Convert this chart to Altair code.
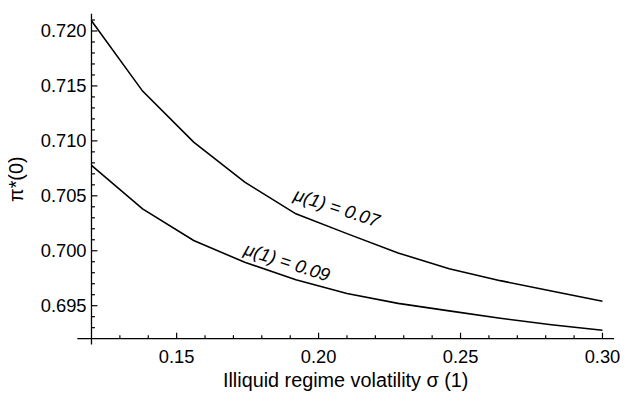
import altair as alt
import pandas as pd

# ---- data ----
sigma = [0.12, 0.138, 0.156, 0.174, 0.192, 0.21, 0.228, 0.246, 0.264, 0.282, 0.30]
pi_mu07 = [0.72093, 0.71453, 0.70989, 0.70624, 0.70336, 0.70156, 0.69980,
           0.69836, 0.69728, 0.69633, 0.69541]
pi_mu09 = [0.70777, 0.70381, 0.70093, 0.69895, 0.69737, 0.69611, 0.69521,
           0.69453, 0.69386, 0.69327, 0.69276]
series_names = ["μ(1) = 0.07", "μ(1) = 0.09"]
label_x = [0.2064, 0.1889]
label_y = [0.70390, 0.69895]

x_major = [0.15, 0.20, 0.25, 0.30]
x_tick_labels = ["0.15", "0.20", "0.25", "0.30"]
x_minor = [0.13, 0.14, 0.16, 0.17, 0.18, 0.19, 0.21, 0.22, 0.23, 0.24,
           0.26, 0.27, 0.28, 0.29]
y_major = [0.695, 0.700, 0.705, 0.710, 0.715, 0.720]
y_tick_labels = ["0.695", "0.700", "0.705", "0.710", "0.715", "0.720"]
y_minor = [0.693, 0.694, 0.696, 0.697, 0.698, 0.699, 0.701, 0.702, 0.703,
           0.704, 0.706, 0.707, 0.708, 0.709, 0.711, 0.712, 0.713, 0.714,
           0.716, 0.717, 0.718, 0.719, 0.721]
x_title = "Illiquid regime volatility σ (1)"
y_title = "π*(0)"
x_axis_at = 0.12    # where the vertical axis crosses
y_axis_at = 0.692   # where the horizontal axis crosses

FONT = "Liberation Sans"
X_DOMAIN = [0.11501, 0.30408]
Y_DOMAIN = [0.69146, 0.72156]
W, H = 542, 334
MAJOR = 6
MINOR = 3.5
PX_X = W / (X_DOMAIN[1] - X_DOMAIN[0])   # pixels per x unit
PX_Y = H / (Y_DOMAIN[1] - Y_DOMAIN[0])   # pixels per y unit

rows = []
for name, vals in zip(series_names, [pi_mu07, pi_mu09]):
    for s, v in zip(sigma, vals):
        rows.append({"sigma": s, "pi": v, "series": name})
df = pd.DataFrame(rows)
lab = pd.DataFrame({"x": label_x, "y": label_y, "text": series_names})
one = pd.DataFrame({"k": [0]})

xs = alt.Scale(domain=X_DOMAIN, nice=False, zero=False)
ys = alt.Scale(domain=Y_DOMAIN, nice=False, zero=False)


def xd(v):
    return alt.XDatum(v, type="quantitative", scale=xs, axis=None)


def yd(v):
    return alt.YDatum(v, type="quantitative", scale=ys, axis=None)


def xf(f):
    return alt.X(f, type="quantitative", scale=xs, axis=None)


def yf(f):
    return alt.Y(f, type="quantitative", scale=ys, axis=None)


main = alt.Chart(df).mark_line(color="black", strokeWidth=1.6).encode(
    x=xf("sigma"), y=yf("pi"), detail="series:N",
)

# axis lines (they cross, Mathematica style)
x_line = alt.Chart(one).mark_rule(color="black", strokeWidth=1.3).encode(
    x=xd(X_DOMAIN[0]), x2=alt.X2Datum(X_DOMAIN[1]), y=yd(y_axis_at))
y_line = alt.Chart(one).mark_rule(color="black", strokeWidth=1.3).encode(
    x=xd(x_axis_at), y=yd(Y_DOMAIN[0]), y2=alt.Y2Datum(Y_DOMAIN[1]))


# inward tick marks: start on the axis line, end a few pixels inside
def y_tick_table(values, length):
    return pd.DataFrame({"v": values, "a": x_axis_at,
                         "b": x_axis_at + length / PX_X})


def x_tick_table(values, length):
    return pd.DataFrame({"v": values, "a": y_axis_at,
                         "b": y_axis_at + length / PX_Y})


y_ticks_all = pd.concat([y_tick_table(y_major, MAJOR),
                         y_tick_table(y_minor, MINOR)], ignore_index=True)
x_ticks_all = pd.concat([x_tick_table(x_major, MAJOR),
                         x_tick_table(x_minor, MINOR)], ignore_index=True)

y_tick_rules = alt.Chart(y_ticks_all).mark_rule(
    color="black", strokeWidth=1.2
).encode(x=xf("a"), x2="b:Q", y=yf("v"))

x_tick_rules = alt.Chart(x_ticks_all).mark_rule(
    color="black", strokeWidth=1.2
).encode(x=xf("v"), y=yf("a"), y2="b:Q")

x_labels = alt.Chart(pd.DataFrame({"v": x_major, "t": x_tick_labels})).mark_text(
    font=FONT, fontSize=18.5, color="black", baseline="middle", dy=19
).encode(x=xf("v"), y=yd(y_axis_at), text="t:N")

y_labels = alt.Chart(pd.DataFrame({"v": y_major, "t": y_tick_labels})).mark_text(
    font=FONT, fontSize=18.5, color="black", baseline="middle", align="right",
    dx=-5
).encode(x=xd(x_axis_at), y=yf("v"), text="t:N")

x_title_mark = alt.Chart(pd.DataFrame({"t": [x_title]})).mark_text(
    font=FONT, fontSize=20, color="black", baseline="middle", dy=43
).encode(x=xd((X_DOMAIN[0] + X_DOMAIN[1]) / 2), y=yd(y_axis_at), text="t:N")

y_title_mark = alt.Chart(pd.DataFrame({"t": [y_title]})).mark_text(
    font=FONT, fontSize=20, color="black", baseline="middle", angle=270
).encode(x=xd(0.09374), y=yd(0.70651), text="t:N")

texts = alt.Chart(lab).mark_text(
    angle=18, fontStyle="italic", fontSize=18.5, font=FONT, color="black"
).encode(x=xf("x"), y=yf("y"), text="text:N")

chart = alt.layer(
    main, x_line, y_line, y_tick_rules, x_tick_rules,
    x_labels, y_labels, x_title_mark, y_title_mark, texts,
).properties(
    width=W, height=H,
    autosize=alt.AutoSizeParams(type="none"),
    padding={"left": 70, "top": 4, "right": 6, "bottom": 50},
).configure_view(stroke=None)

chart.save("out.html", embed_options={"renderer": "svg", "actions": False})
